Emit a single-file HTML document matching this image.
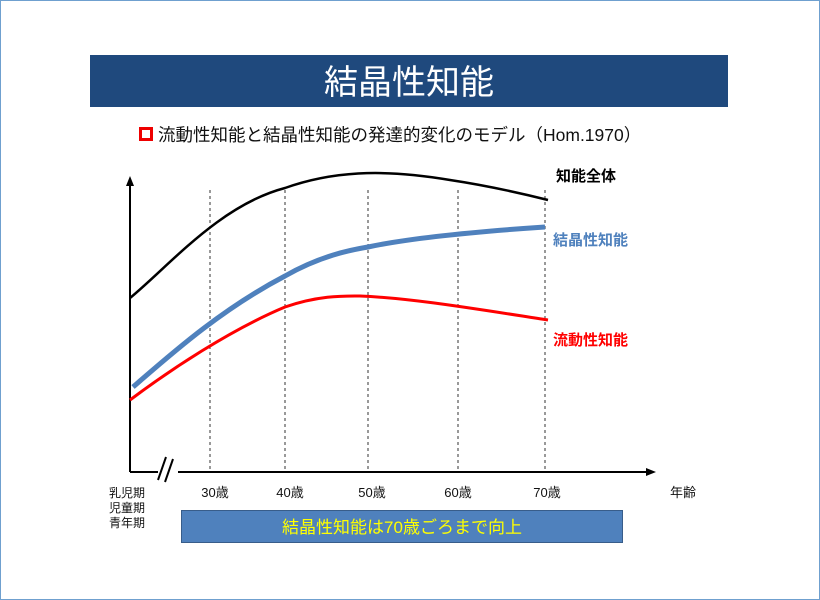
<!DOCTYPE html>
<html><head><meta charset="utf-8"><style>
body{margin:0;background:#fff;}
svg{display:block;font-family:"Liberation Sans","Noto Sans CJK JP",sans-serif;}
</style></head><body>
<svg width="820" height="600" viewBox="0 0 820 600">
<rect x="0.5" y="0.5" width="819" height="599" fill="#fff" stroke="#6fa0cf"/>
<rect x="90" y="55" width="638" height="52" fill="#1f497d"/>
<text x="409" y="94" text-anchor="middle" font-size="34" fill="#fff">結晶性知能</text>
<rect x="140.5" y="128.5" width="11" height="11" fill="#fff" stroke="#e00" stroke-width="3"/>
<text x="158" y="141" font-size="17.5" fill="#111">流動性知能と結晶性知能の発達的変化のモデル（Hom.1970）</text>
<g stroke="#333" stroke-width="1" stroke-dasharray="3,3">
<line x1="210" y1="190" x2="210" y2="472"/><line x1="285" y1="190" x2="285" y2="472"/>
<line x1="368" y1="190" x2="368" y2="472"/><line x1="458" y1="190" x2="458" y2="472"/>
<line x1="545" y1="190" x2="545" y2="472"/>
</g>
<line x1="130" y1="472" x2="130" y2="182" stroke="#000" stroke-width="2"/>
<polygon points="130,176 126,186 134,186" fill="#000"/>
<line x1="130" y1="472" x2="648" y2="472" stroke="#000" stroke-width="2"/>
<polygon points="656,472 646,468 646,476" fill="#000"/>
<rect x="158" y="455" width="20" height="28" fill="#fff"/>
<path d="M158,480 L166,457 M165,482 L173,459" stroke="#000" stroke-width="2" fill="none"/>
<path d="M130,298 C170,265 220,205 285,188 C330,172 380,168 450,180 C490,186 520,193 548,200" fill="none" stroke="#000" stroke-width="2.5"/>
<path d="M133,387 C170,355 220,310 285,276 C320,256 350,250 368,247 C410,238 470,232 545,227" fill="none" stroke="#4f81bd" stroke-width="5"/>
<path d="M130,400 C170,370 230,330 285,307 C320,295 345,296 360,296 C410,298 470,308 548,320" fill="none" stroke="#f00" stroke-width="3"/>
<g font-size="15" font-weight="bold">
<text x="556" y="181" fill="#000">知能全体</text>
<text x="553" y="245" fill="#4f81bd">結晶性知能</text>
<text x="553" y="345" fill="#f00">流動性知能</text>
</g>
<g font-size="13" fill="#111" text-anchor="middle">
<text x="215" y="497">30歳</text><text x="290" y="497">40歳</text><text x="372" y="497">50歳</text>
<text x="458" y="497">60歳</text><text x="547" y="497">70歳</text><text x="683" y="497">年齢</text>
</g>
<g font-size="12" fill="#111">
<text x="109" y="497">乳児期</text><text x="109" y="512">児童期</text><text x="109" y="527">青年期</text>
</g>
<rect x="181.5" y="510.5" width="441" height="32" fill="#4f81bd" stroke="#385d8a"/>
<text x="402" y="533" text-anchor="middle" font-size="17" fill="#ffff00">結晶性知能は70歳ごろまで向上</text>
</svg>
</body></html>
